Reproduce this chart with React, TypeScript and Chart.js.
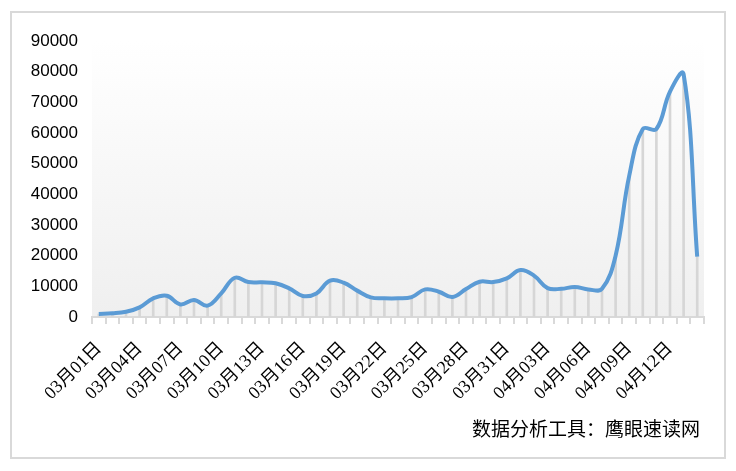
import React, { useEffect, useRef } from "react";
import { Chart, registerables } from "chart.js";

Chart.register(...registerables);

const categories: string[] = [
  "03月01日", "03月02日", "03月03日", "03月04日", "03月05日", "03月06日", "03月07日", "03月08日",
  "03月09日", "03月10日", "03月11日", "03月12日", "03月13日", "03月14日", "03月15日", "03月16日",
  "03月17日", "03月18日", "03月19日", "03月20日", "03月21日", "03月22日", "03月23日", "03月24日",
  "03月25日", "03月26日", "03月27日", "03月28日", "03月29日", "03月30日", "03月31日", "04月01日",
  "04月02日", "04月03日", "04月04日", "04月05日", "04月06日", "04月07日", "04月08日", "04月09日",
  "04月10日", "04月11日", "04月12日", "04月13日", "04月14日",
];

const seriesValues: number[] = [
  1000, 1200, 1700, 3150, 6100, 6950, 4100, 5550, 3700, 7700,
  12800, 11400, 11300, 11000, 9350, 6850, 7700, 11850, 11200, 8600,
  6400, 6100, 6100, 6500, 9000, 8250, 6500, 9100, 11500, 11400,
  12600, 15300, 13500, 9400, 9200, 9800, 9000, 9200, 20000, 46000,
  61300, 61300, 73500, 79200, 19700,
];

const yTickMax = 90000;
const yTickStep = 10000;
const labelEvery = 3;
const lastLabeledIndex = 42;
const watermark = "数据分析工具：鹰眼速读网";

const gradientBg = {
  id: "gradientBg",
  beforeDraw(chart: any) {
    const { ctx, chartArea } = chart;
    if (!chartArea) return;
    const g = ctx.createLinearGradient(0, chartArea.top, 0, chartArea.bottom);
    g.addColorStop(0, "#ffffff");
    g.addColorStop(1, "#efefef");
    ctx.save();
    ctx.fillStyle = g;
    ctx.fillRect(chartArea.left, chartArea.top, chartArea.right - chartArea.left, chartArea.bottom - chartArea.top);
    ctx.restore();
  },
};

export default function App() {
  const ref = useRef<HTMLCanvasElement | null>(null);
  useEffect(() => {
    if (!ref.current) return;
    const chart = new Chart(ref.current, {
      type: "bar",
      data: {
        labels: categories,
        datasets: [
          {
            type: "line",
            data: seriesValues,
            borderColor: "#5b9bd5",
            borderWidth: 4,
            pointRadius: 0,
            tension: 0.4,
            fill: false,
            order: 0,
          } as any,
          {
            type: "bar",
            data: seriesValues,
            backgroundColor: "#d6d6d6",
            barThickness: 2,
            order: 1,
          },
        ],
      },
      options: {
        animation: false,
        responsive: true,
        maintainAspectRatio: false,
        layout: { padding: { left: 0, right: 20, top: 28, bottom: 0 } },
        plugins: {
          legend: { display: false },
          tooltip: { enabled: false },
        },
        scales: {
          x: {
            offset: true,
            grid: {
              display: true,
              drawOnChartArea: false,
              drawTicks: true,
              tickLength: 7,
              color: "#d9d9d9",
              lineWidth: 2,
              offset: true,
            },
            border: { display: true, color: "#d9d9d9", width: 2 },
            ticks: {
              autoSkip: false,
              maxRotation: 45,
              minRotation: 45,
              padding: 14,
              color: "#000000",
              font: { family: "'Liberation Serif', 'Noto Sans CJK SC', serif", size: 18 },
              callback: (_v: any, i: number) =>
                i % labelEvery === 0 && i <= lastLabeledIndex ? categories[i] : "",
            },
            afterFit: (scale: any) => {
              scale.height = 140;
              scale.paddingRight = 0;
              scale.paddingLeft = 0;
            },
          },
          y: {
            min: 0,
            max: yTickMax,
            grid: { display: false, drawTicks: false },
            border: { display: false },
            ticks: {
              stepSize: yTickStep,
              padding: 14,
              color: "#000000",
              font: { family: "'Liberation Sans', Arial, sans-serif", size: 17 },
              callback: (v: any) => String(v),
            },
            afterFit: (scale: any) => {
              scale.width = 80;
            },
          },
        },
      },
      plugins: [gradientBg],
    });
    return () => chart.destroy();
  }, []);

  return (
    <div
      style={{
        position: "absolute",
        left: 10,
        top: 11,
        width: 716,
        height: 448,
        boxSizing: "border-box",
        border: "2px solid #d9d9d9",
        background: "#ffffff",
      }}
    >
      <div style={{ position: "relative", width: 712, height: 444 }}>
        <canvas ref={ref} />
      </div>
      <div
        style={{
          position: "absolute",
          right: 24,
          top: 403,
          fontFamily: "'Noto Sans CJK SC', sans-serif",
          fontSize: 19,
          lineHeight: "24px",
          color: "#000000",
          whiteSpace: "nowrap",
        }}
      >
        {watermark}
      </div>
    </div>
  );
}
